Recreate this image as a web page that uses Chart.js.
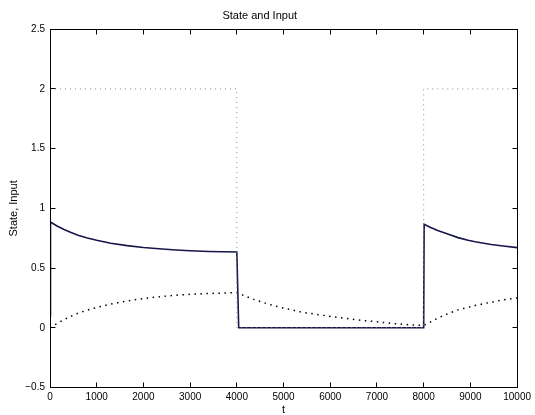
<!DOCTYPE html>
<html>
<head>
<meta charset="utf-8">
<title>State and Input</title>
<script src="https://cdn.jsdelivr.net/npm/chart.js@4/dist/chart.umd.min.js"></script>
<style>
	html, body { margin: 0; padding: 0; background: #fff; }
	canvas { display: block; }
</style>
</head>
<body>
<canvas id="stateChart" width="535" height="415"></canvas>
<script>
// axis ticks and their labels
var xTicks = [0, 1000, 2000, 3000, 4000, 5000, 6000, 7000, 8000, 9000, 10000];
var xTickLabels = ["0", "1000", "2000", "3000", "4000", "5000", "6000", "7000", "8000", "9000", "10000"];
var yTicks = [-0.5, 0, 0.5, 1, 1.5, 2, 2.5];
var yTickLabels = ["\u22120.5", "0", "0.5", "1", "1.5", "2", "2.5"];

// input (dotted grey step)
var inputT = [0, 4000, 4000, 8000, 8000, 10000];
var inputV = [2, 2, 0, 0, 2, 2];

// first state (solid line)
var state1T = [0, 10, 150, 300, 450, 600, 800, 1000, 1300, 1650, 2000, 2400, 2700, 3000, 3400, 3700, 4000, 4040,
	6000, 8000, 8010, 8150, 8300, 8500, 8735, 8950, 9100, 9446, 9700, 10000];
var state1V = [0.1, 0.886, 0.852, 0.823, 0.797, 0.775, 0.752, 0.733, 0.708, 0.688, 0.672, 0.659, 0.651, 0.645, 0.639, 0.636, 0.634, 0,
	0, 0, 0.866, 0.84, 0.815, 0.787, 0.755, 0.733, 0.72, 0.698, 0.685, 0.671];

// second state (dotted black)
var state2T = [0, 150, 300, 450, 600, 800, 1000, 1300, 1650, 2000, 2400, 2700, 3000, 3400, 4000, 4150, 4350, 4500, 4700, 5000, 5400,
	6000, 6600, 7000, 7300, 7700, 8000, 8150, 8300, 8450, 8600, 8735, 9100, 9446, 9700, 10000];
var state2V = [0, 0.035, 0.068, 0.097, 0.122, 0.148, 0.17, 0.198, 0.225, 0.245, 0.262, 0.273, 0.28, 0.287, 0.295, 0.27, 0.24, 0.22, 0.195, 0.165, 0.13,
	0.095, 0.065, 0.05, 0.037, 0.025, 0.02, 0.05, 0.08, 0.107, 0.13, 0.15, 0.186, 0.215, 0.233, 0.25];

var fontFamily = "'Liberation Sans', Arial, Helvetica, sans-serif";

// turn two arrays into {x, y} points
function toPoints(ts, vs) {
	return ts.map(function(t, i) { return { x: t, y: vs[i] }; });
}

// matlab style box with inward ticks on all four sides
var boxPlugin = {
	id: "boxPlugin",
	afterDatasetsDraw: function(chart) {
		var ctx = chart.ctx;
		var a = chart.chartArea;
		var xs = chart.scales.x;
		var ys = chart.scales.y;
		var L = Math.floor(a.left) + 0.5, R = Math.floor(a.right) + 0.5;
		var T = Math.floor(a.top) + 0.5, B = Math.floor(a.bottom) + 0.5;

		ctx.save();
		ctx.strokeStyle = "#000";
		ctx.lineWidth = 1;
		ctx.strokeRect(L, T, R - L, B - T);

		ctx.beginPath();
		xs.ticks.forEach(function(t) {
			var px = Math.floor(xs.getPixelForValue(t.value)) + 0.5;
			ctx.moveTo(px, B); ctx.lineTo(px, B - 5);
			ctx.moveTo(px, T); ctx.lineTo(px, T + 5);
		});
		ys.ticks.forEach(function(t) {
			var py = Math.floor(ys.getPixelForValue(t.value)) + 0.5;
			ctx.moveTo(L, py); ctx.lineTo(L + 5, py);
			ctx.moveTo(R, py); ctx.lineTo(R - 5, py);
		});
		ctx.stroke();
		ctx.restore();
	}
};

var ctx = document.getElementById("stateChart").getContext("2d");
window.stateChart = new Chart(ctx, {
	type: "line",
	data: {
		datasets: [{
			label: "Input",
			data: toPoints(inputT, inputV),
			borderColor: "#8a8a8a",
			borderWidth: 1,
			borderDash: [1, 4],
			pointRadius: 0,
			tension: 0
		}, {
			label: "State 1",
			data: toPoints(state1T, state1V),
			borderColor: "#16164a",
			borderWidth: 1.6,
			pointRadius: 0,
			tension: 0
		}, {
			label: "State 2",
			data: toPoints(state2T, state2V),
			borderColor: "#000",
			borderWidth: 1.5,
			borderDash: [1.5, 4.5],
			pointRadius: 0,
			tension: 0
		}]
	},
	options: {
		responsive: false,
		devicePixelRatio: 1,
		animation: false,
		layout: { padding: { left: 0, right: 15.5, top: 0, bottom: 0 } },
		plugins: {
			legend: { display: false },
			tooltip: { enabled: false },
			title: {
				display: true,
				text: "State and Input",
				color: "#000",
				font: { family: fontFamily, size: 11, weight: "normal", lineHeight: 1.2 },
				padding: { top: 9, bottom: 7 }
			}
		},
		scales: {
			x: {
				type: "linear",
				position: "bottom",
				min: 0,
				max: 10000,
				grid: { display: false, drawTicks: false },
				border: { display: false },
				afterBuildTicks: function(scale) {
					scale.ticks = xTicks.map(function(v) { return { value: v }; });
				},
				afterFit: function(scale) { scale.height = 27.5; },
				ticks: {
					autoSkip: false,
					maxRotation: 0,
					padding: 4,
					color: "#000",
					font: { family: fontFamily, size: 10 },
					callback: function(value) {
						var i = xTicks.indexOf(value);
						return i >= 0 ? xTickLabels[i] : "";
					}
				},
				title: {
					display: true,
					text: "t",
					color: "#000",
					font: { family: fontFamily, size: 11, lineHeight: 1 },
					padding: { top: 0, bottom: 0 }
				}
			},
			y: {
				type: "linear",
				position: "left",
				min: -0.5,
				max: 2.5,
				grid: { display: false, drawTicks: false },
				border: { display: false },
				afterBuildTicks: function(scale) {
					scale.ticks = yTicks.map(function(v) { return { value: v }; });
				},
				afterFit: function(scale) { scale.width = 50; },
				ticks: {
					autoSkip: false,
					padding: 5,
					color: "#000",
					font: { family: fontFamily, size: 10 },
					callback: function(value) {
						var i = yTicks.indexOf(value);
						return i >= 0 ? yTickLabels[i] : "";
					}
				},
				title: {
					display: true,
					text: "State, Input",
					color: "#000",
					font: { family: fontFamily, size: 11, lineHeight: 1.2 },
					padding: { top: 7, bottom: 0 }
				}
			}
		}
	},
	plugins: [boxPlugin]
});
</script>
</body>
</html>
